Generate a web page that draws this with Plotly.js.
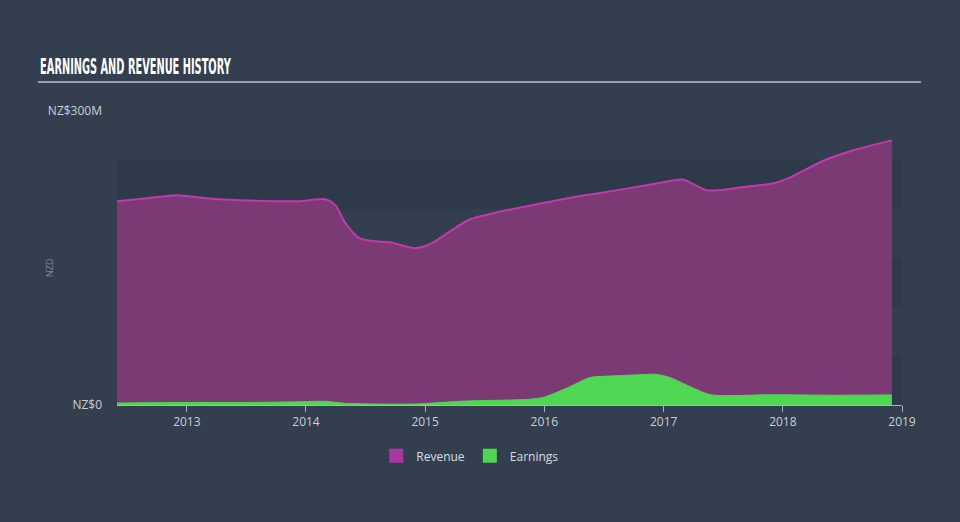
<!DOCTYPE html>
<html>
<head>
<meta charset="utf-8">
<script src="https://cdn.plot.ly/plotly-3.0.1.min.js"></script>
<style>
html,body{margin:0;padding:0;background:#333f4f;}
#chart{width:960px;height:522px;}
</style>
</head>
<body>
<div id="chart"></div>
<script>
// ---- data ----
const revenueDates = ["2012-06-01","2012-09-01","2012-12-01","2013-03-01","2013-06-15","2013-12-15","2014-03-01","2014-04-01","2014-05-01","2014-06-15","2014-08-01","2014-09-15","2014-12-01","2015-01-15","2015-05-15","2015-08-01","2016-04-15","2016-06-15","2016-12-10","2017-02-28","2017-05-15","2017-09-15","2017-12-01","2018-01-15","2018-05-10","2018-08-01","2018-12-01"];
const revenueValues = [208,211,214,211,209,208,210,204,186,170,167,166,160,164,189,196,213,216,226,230,219,223,226,231,250,259.5,270];

const earningsDates = ["2012-06-01","2012-12-01","2013-06-15","2013-12-15","2014-03-01","2014-05-01","2014-12-01","2015-05-01","2015-11-15","2016-01-01","2016-03-15","2016-05-20","2016-07-15","2016-10-01","2016-12-10","2017-01-20","2017-03-15","2017-05-25","2017-12-01","2018-06-01","2018-12-01"];
const earningsValues = [2,2.5,2.5,3.3,3.8,1.7,1,4,5.8,8,18,28,29.5,30.6,31.3,28,20,10.5,10.5,10,10.3];

const yTickValues = [0, 300];
const yTickLabels = ["NZ$0", "NZ$300M"];
const bandEdges = [0, 50, 100, 150, 200, 250];
const seriesNames = ["Revenue", "Earnings"];
const chartTitle = "EARNINGS AND REVENUE HISTORY";

const revenueFill = "#7b3a74";
const revenueLine = "#c03aad";
const revenueSwatch = "#a8389f";
const earningsFill = "#4fd653";

// ---- traces ----
const traces = [
  {
    x: revenueDates, y: revenueValues, name: seriesNames[0], showlegend: false,
    type: "scatter", mode: "lines", fill: "tozeroy",
    line: {color: revenueLine, width: 2, shape: "spline", smoothing: 0.7},
    fillcolor: revenueFill, hoverinfo: "skip"
  },
  {
    x: earningsDates, y: earningsValues, name: seriesNames[1], showlegend: false,
    type: "scatter", mode: "lines", fill: "tozeroy",
    line: {color: earningsFill, width: 1, shape: "spline", smoothing: 0.7},
    fillcolor: earningsFill, hoverinfo: "skip"
  },
  // legend entries (square swatches)
  {
    x: [null], y: [null], name: seriesNames[0], type: "scatter", mode: "markers",
    marker: {symbol: "square", size: 14, color: revenueSwatch}, hoverinfo: "skip"
  },
  {
    x: [null], y: [null], name: seriesNames[1], type: "scatter", mode: "markers",
    marker: {symbol: "square", size: 14, color: earningsFill}, hoverinfo: "skip"
  }
];

// ---- background bands ----
const shapes = [];
for (let i = 0; i < bandEdges.length - 1; i++) {
  if (i % 2 !== 0) continue;
  shapes.push({
    type: "rect", xref: "paper", yref: "y", x0: 0, x1: 1, y0: bandEdges[i], y1: bandEdges[i + 1],
    fillcolor: "rgba(10,20,30,0.11)", line: {width: 0}, layer: "below"
  });
}
// title underline
shapes.push({
  type: "line", xref: "paper", yref: "paper",
  x0: -0.1006, x1: 1.0242, y0: 1.0986, y1: 1.0986,
  line: {color: "#9aa3ad", width: 2}
});

const layout = {
  width: 960, height: 522,
  margin: {l: 117, r: 58, t: 111, b: 117, pad: 0},
  paper_bgcolor: "#333f4f",
  plot_bgcolor: "rgba(0,0,0,0)",
  font: {family: "Open Sans, sans-serif", color: "#c9ced4", size: 12},
  showlegend: true,
  legend: {
    orientation: "h", x: 0.45, xanchor: "center", y: -0.173, yanchor: "middle",
    font: {color: "#d8dde2", size: 12}, bgcolor: "rgba(0,0,0,0)", itemwidth: 30
  },
  xaxis: {
    type: "date", range: ["2012-06-01", "2019-01-01"],
    tick0: "2013-01-01", dtick: "M12", tickformat: "%Y",
    showgrid: false, zeroline: false,
    showline: true, linecolor: "#a9b2bd", linewidth: 1,
    ticks: "outside", ticklen: 6, tickcolor: "#a9b2bd", tickwidth: 1,
    tickfont: {color: "#c9ced4", size: 12}, fixedrange: true
  },
  yaxis: {
    range: [0, 300], tickmode: "array", tickvals: yTickValues, ticktext: yTickLabels,
    showgrid: false, zeroline: false, showline: false, ticks: "",
    ticklabelstandoff: 14,
    tickfont: {color: "#c9ced4", size: 12}, fixedrange: true
  },
  shapes: shapes,
  annotations: [
    {
      text: "<b>" + chartTitle + "</b>", xref: "paper", yref: "paper",
      x: -0.1006, xanchor: "left", y: 1.149, yanchor: "middle", showarrow: false,
      font: {family: "DejaVu Sans Condensed, DejaVu Sans, sans-serif", size: 21, color: "#ffffff"}
    },
    {
      text: "NZD", xref: "paper", yref: "paper", textangle: -90,
      x: -0.0854, y: 0.466, xanchor: "center", yanchor: "middle", showarrow: false,
      font: {size: 9, color: "#7f8995"}
    }
  ]
};

Plotly.newPlot("chart", traces, layout, {staticPlot: true, displayModeBar: false}).then(function (gd) {
  // condense the title horizontally to match the narrow display face
  const t = gd.querySelector(".annotation text");
  if (t) {
    const bb = t.getBBox();
    const target = 191;
    const s = target / bb.width;
    t.setAttribute("transform", "matrix(" + s + ",0,0,1," + (bb.x * (1 - s)) + ",0)");
  }
});
</script>
</body>
</html>
